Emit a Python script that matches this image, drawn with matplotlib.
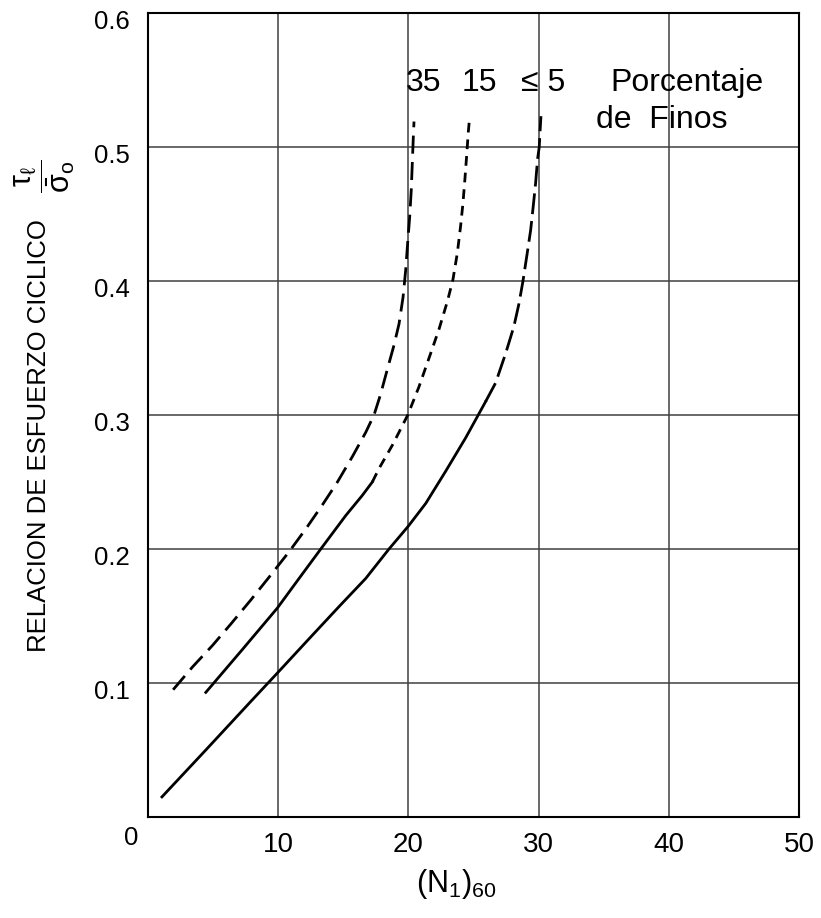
import matplotlib
matplotlib.use("Agg")
import matplotlib.pyplot as plt
from matplotlib.transforms import ScaledTranslation

plt.rcParams['font.family'] = ['Liberation Sans', 'DejaVu Sans']
plt.rcParams['mathtext.fontset'] = 'custom'
plt.rcParams['mathtext.rm'] = 'Liberation Sans'
plt.rcParams['mathtext.it'] = 'Liberation Sans'
plt.rcParams['mathtext.bf'] = 'Liberation Sans'
plt.rcParams['lines.scale_dashes'] = False

# curves: (N1)60 vs cyclic stress ratio
fines35_x = [1.93, 3.42, 4.95, 6.36, 7.9, 9.3, 10.84, 12.12, 13.4, 14.55, 15.7, 16.72, 17.36,
             17.85, 18.38, 18.89, 19.28, 19.59, 19.79, 19.94, 20.10, 20.22, 20.30, 20.38, 20.43]
fines35_y = [0.095, 0.112, 0.128, 0.144, 0.162, 0.179, 0.198, 0.215, 0.233, 0.250, 0.269, 0.287, 0.300,
             0.315, 0.334, 0.352, 0.368, 0.388, 0.408, 0.428, 0.448, 0.468, 0.488, 0.508, 0.519]

fines15_solid_x = [4.44, 7.25, 9.94, 11.6, 13.27, 15.19, 16.46, 17.23]
fines15_solid_y = [0.093, 0.125, 0.156, 0.178, 0.200, 0.225, 0.240, 0.250]
fines15_dash_x = [17.23, 17.74, 18.8, 19.95, 20.81, 21.71, 22.35, 23.0, 23.42, 23.76,
                  24.01, 24.19, 24.34, 24.47, 24.60, 24.70]
fines15_dash_y = [0.250, 0.260, 0.278, 0.300, 0.321, 0.346, 0.364, 0.385, 0.401, 0.421,
                  0.441, 0.458, 0.476, 0.493, 0.511, 0.522]

fines5_solid_x = [1.07, 4.44, 7.97, 9.99, 12.37, 14.67, 16.72, 18.51, 19.99, 21.33, 22.86, 24.40, 25.93]
fines5_solid_y = [0.015, 0.050, 0.087, 0.108, 0.133, 0.157, 0.178, 0.200, 0.217, 0.234, 0.258, 0.283, 0.310]
fines5_dash_x = [25.93, 26.70, 27.47, 28.10, 28.49, 28.80, 29.13, 29.39, 29.59, 29.77,
                 29.92, 30.05, 30.12, 30.18]
fines5_dash_y = [0.310, 0.324, 0.346, 0.366, 0.383, 0.400, 0.421, 0.438, 0.456, 0.473,
                 0.491, 0.500, 0.513, 0.523]

xticks = [10, 20, 30, 40, 50]
yticks = [0, 0.1, 0.2, 0.3, 0.4, 0.5, 0.6]
ytick_labels = ["0", "0.1", "0.2", "0.3", "0.4", "0.5", "0.6"]

fig = plt.figure(figsize=(8.21, 9.18), dpi=100)
ax = fig.add_axes([148 / 821, 101 / 918, 651 / 821, 804 / 918])

lw = 2.0
ax.plot(fines35_x, fines35_y, color="black", lw=lw, dashes=(13, 6))
ax.plot(fines15_solid_x, fines15_solid_y, color="black", lw=lw)
ax.plot(fines15_dash_x, fines15_dash_y, color="black", lw=lw, dashes=(7, 5))
ax.plot(fines5_solid_x, fines5_solid_y, color="black", lw=lw)
ax.plot(fines5_dash_x, fines5_dash_y, color="black", lw=lw, dashes=(15, 5))

ax.set_xlim(0, 50)
ax.set_ylim(0, 0.6)
ax.set_xticks(xticks)
ax.set_yticks(yticks)
ax.set_yticklabels(ytick_labels)
ax.grid(True, color="#404040", lw=1.1)
ax.set_axisbelow(True)
for s in ax.spines.values():
    s.set_linewidth(1.5)
    s.set_color("black")
ax.tick_params(axis="x", length=0, pad=11, labelsize=20)
ax.tick_params(axis="y", length=0, pad=13, labelsize=18.5)

# y labels sit a little below their grid lines in the original
for lab in ax.get_yticklabels():
    if lab.get_text() == "0":
        off = ScaledTranslation(6 / 72, -13 / 72, fig.dpi_scale_trans)
    else:
        off = ScaledTranslation(0, -5 / 72, fig.dpi_scale_trans)
    lab.set_transform(lab.get_transform() + off)

ax.set_xlabel(r"$(\mathrm{N}_1)_{60}$", fontsize=22)
ax.xaxis.set_label_coords(0.473, -0.062)

fig.text(39 / 821, 1 - 436 / 918, "RELACION DE ESFUERZO CICLICO", rotation=90,
         ha="center", va="center", fontsize=18.5)
fig.text(45 / 821, 1 - 176 / 918, r"$\dfrac{\tau_\ell}{\bar{\sigma}_o}$", rotation=90,
         ha="center", va="center", fontsize=22)

fs = 23
ax.text(19.81, 0.542, "35", fontsize=fs, va="baseline")
ax.text(24.11, 0.542, "15", fontsize=fs, va="baseline")
ax.text(28.64, 0.542, "\u2264 5", fontsize=fs, va="baseline")
ax.text(35.55, 0.542, "Porcentaje", fontsize=fs, va="baseline")
ax.text(34.4, 0.514, "de  Finos", fontsize=fs, va="baseline")

fig.savefig("out.png", dpi=100)
